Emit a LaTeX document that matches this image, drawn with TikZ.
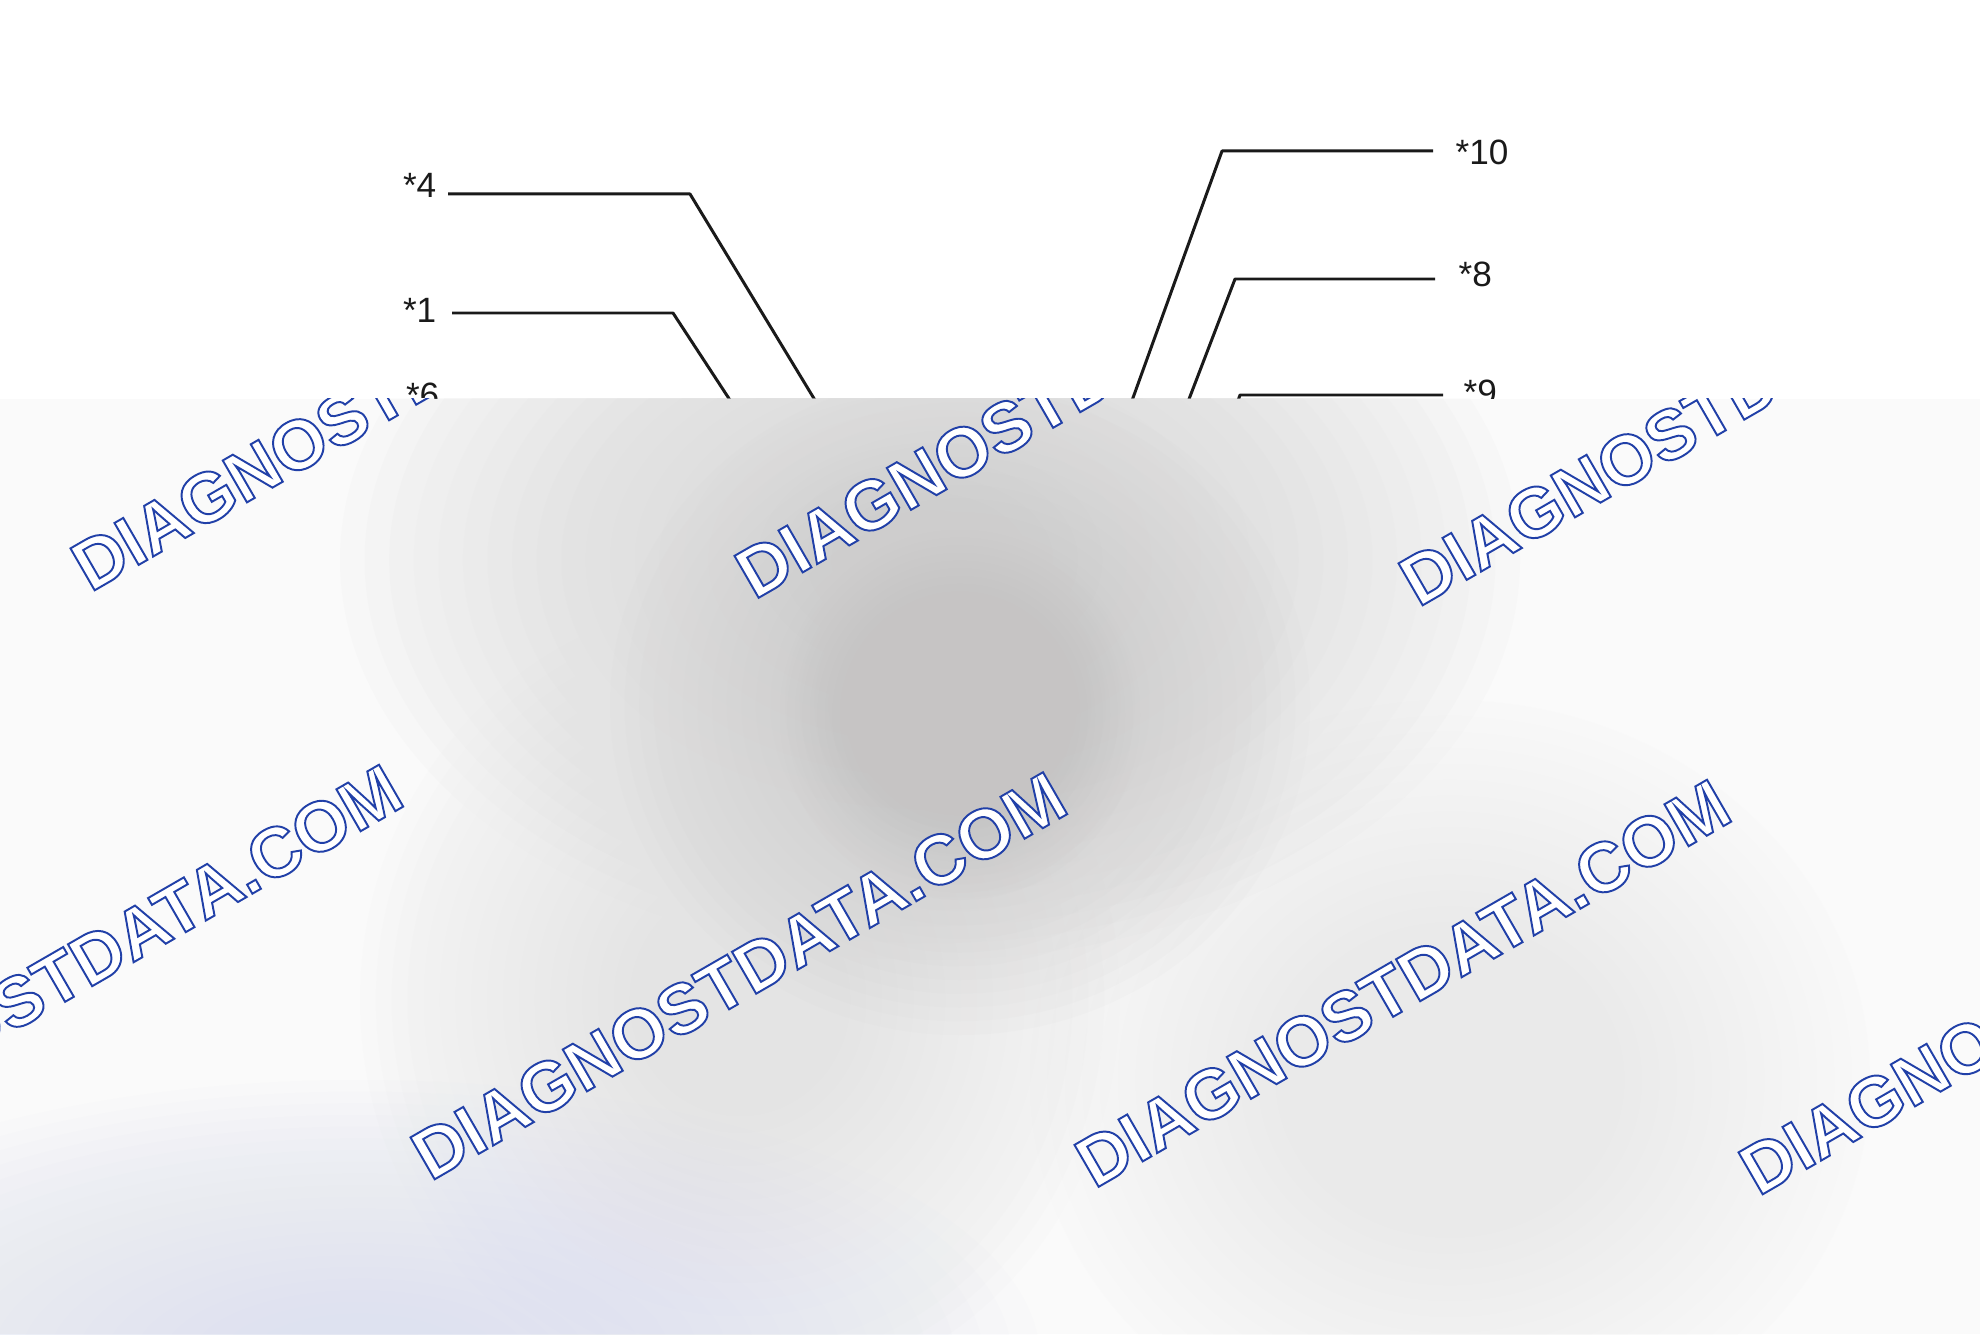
\documentclass[tikz,border=0pt]{standalone}
\usepackage{fontspec}
\setmainfont{Liberation Sans}
\newfontfamily\markfont{Liberation Sans}

\definecolor{leadgray}{RGB}{26,26,26}
\definecolor{fog}{RGB}{250,250,250}
\definecolor{haze}{RGB}{212,212,212}
\definecolor{smoke}{RGB}{206,205,205}
\definecolor{core}{RGB}{198,196,196}
\definecolor{mist}{RGB}{228,228,228}
\definecolor{bluemist}{RGB}{222,226,240}
\definecolor{palemist}{RGB}{234,234,234}

\newcommand\hollowon{\special{pdf:literal direct 2 Tr 0.55 w 1 1 1 rg 0.13 0.25 0.66 RG}}
\newcommand\hollowoff{\special{pdf:literal direct 0 Tr}}

\tikzset{
  lbl/.style={font=\fontsize{10}{12}\selectfont, inner sep=0pt, text=leadgray},
  lead/.style={line width=0.85pt, draw=leadgray, line join=round},
  wmark/.style={font=\markfont\bfseries\fontsize{20}{24}\selectfont, inner sep=0pt,
    anchor=base west, rotate=30, execute at begin node=\hollowon, execute at end node=\hollowoff}
}

\begin{document}
\begin{tikzpicture}[x=0.01cm,y=-0.01cm]
  \useasboundingbox (0,0) rectangle (1980,1334);
  \fill[white] (0,0) rectangle (1980,1334);

  \node[lbl, anchor=base east] (l4) at (437,198) {*4};
  \node[lbl, anchor=base east] (l1) at (437,323) {*1};
  \node[lbl, anchor=base east] (l6) at (440,408) {*6};
  \coordinate (b4) at (690,194);
  \coordinate (d4) at (827,420);
  \coordinate (b1) at (673,313);
  \coordinate (d1) at (743,420);
  \coordinate (b6) at (560,404);
  \coordinate (d6) at (580,440);
  \draw[lead] ([shift={(11,-4)}]l4.base east) -- (b4) -- (d4);
  \draw[lead] ([shift={(15,-10)}]l1.base east) -- (b1) -- (d1);
  \draw[lead] ([shift={(12,-4)}]l6.base east) -- (b6) -- (d6);

  \node[lbl, anchor=base west] (l10) at (1455,165) {*10};
  \node[lbl, anchor=base west] (l8) at (1458,287) {*8};
  \node[lbl, anchor=base west] (l9) at (1463,405) {*9};
  \coordinate (b10) at (1222,151);
  \coordinate (d10) at (1125,420);
  \coordinate (b8) at (1235,279);
  \coordinate (d8) at (1181,420);
  \coordinate (b9) at (1240,395);
  \coordinate (d9) at (1231,420);
  \draw[lead] ([shift={(-22,-14)}]l10.base west) -- (b10) -- (d10);
  \draw[lead] ([shift={(-23,-8)}]l8.base west) -- (b8) -- (d8);
  \draw[lead] ([shift={(-20,-10)}]l9.base west) -- (b9) -- (d9);

  \begin{scope}
    \clip (0,399) rectangle (1980,1334);
    \fill[fog] (0,399) rectangle (1980,1334);
    \foreach \cx/\cy/\rx/\ry/\col in {930/560/590/400/haze, 740/1000/380/400/mist,
        1450/1080/420/380/palemist, 360/1360/680/280/bluemist,
        960/705/350/330/smoke, 960/715/180/185/core}{
      \foreach \k in {1,...,24}
        \fill[\col, fill opacity=0.065] (\cx,\cy) ellipse ({\rx*\k/24} and {\ry*\k/24});
    }
    \foreach \i in {-2,...,2}{
      \foreach \j in {0,1,2}{
        \pgfmathsetmacro\wx{90+664*\i+340*\j}
        \pgfmathsetmacro\wy{593+7.5*\i+589*\j}
        \node[wmark] (wm\i\j) at (\wx,\wy) {DIAGNOSTDATA.COM};
      }
    }
  \end{scope}
\end{tikzpicture}
\end{document}
